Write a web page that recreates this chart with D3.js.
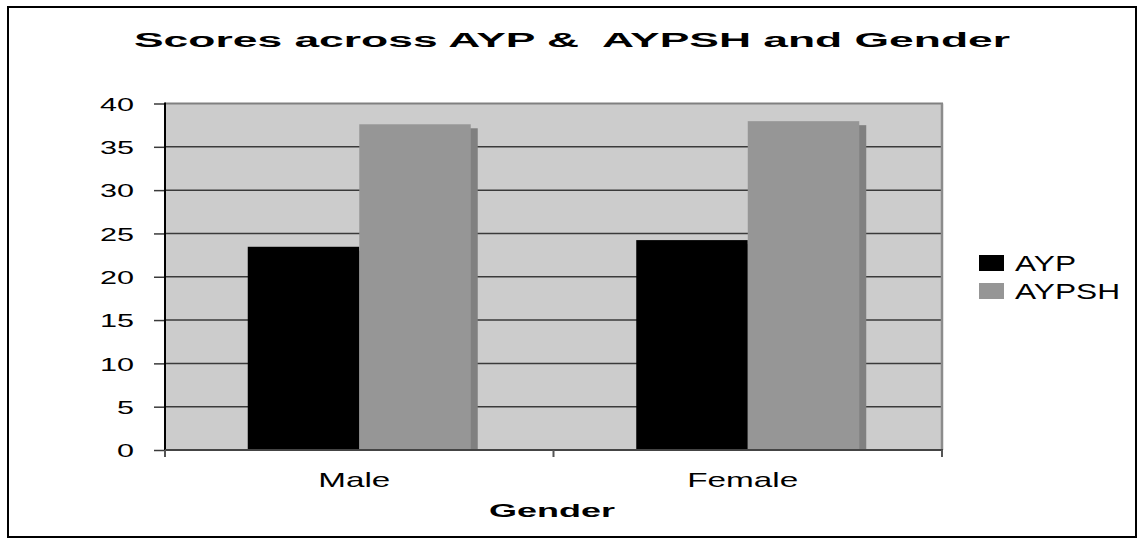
<!DOCTYPE html>
<html>
<head>
<meta charset="utf-8">
<script src="https://cdn.jsdelivr.net/npm/d3@7"></script>
<style>
    body { margin: 0; background: #fff; }
    text { font-family: "Liberation Sans", Arial, sans-serif; fill: #000; }
</style>
</head>
<body>
<svg id="chart" width="1139" height="540"></svg>
<script>
let categories = ["Male", "Female"];
let seriesNames = ["AYP", "AYPSH"];
let aypValues = [23.46, 24.23];
let aypshValues = [37.6, 37.96];
let yTicks = [0, 5, 10, 15, 20, 25, 30, 35, 40];
let colors = ["#000000", "#969696"];

let svg = d3.select("#chart");
let plot = { left: 165, right: 942, top: 103.5, bottom: 450 };

// outer frame
svg.append("rect")
    .attr("x", 8).attr("y", 7)
    .attr("width", 1128).attr("height", 530)
    .attr("fill", "none")
    .attr("stroke", "#000")
    .attr("stroke-width", 2);

let data = categories.map((c, i) => ({
    category: c,
    values: [aypValues[i], aypshValues[i]]
}));

let x0 = d3.scaleBand()
    .domain(categories)
    .range([plot.left, plot.right])
    .paddingInner(0.426)
    .paddingOuter(0.213);

let x1 = d3.scaleBand()
    .domain(seriesNames)
    .range([0, x0.bandwidth()]);

let y = d3.scaleLinear()
    .domain([0, 40])
    .range([plot.bottom, plot.top]);

// plot background
svg.append("rect")
    .attr("x", plot.left).attr("y", plot.top)
    .attr("width", plot.right - plot.left)
    .attr("height", plot.bottom - plot.top)
    .attr("fill", "#cccccc");

// gridlines
svg.append("g")
    .selectAll("line")
    .data(yTicks.filter(d => d > 0 && d < 40))
    .enter().append("line")
    .attr("x1", plot.left).attr("x2", plot.right)
    .attr("y1", d => y(d)).attr("y2", d => y(d))
    .attr("stroke", "#3a3a3a")
    .attr("stroke-width", 1.5);

// top and right border of plot area
svg.append("line")
    .attr("x1", plot.left).attr("x2", plot.right + 1)
    .attr("y1", plot.top).attr("y2", plot.top)
    .attr("stroke", "#808080").attr("stroke-width", 2);
svg.append("line")
    .attr("x1", plot.right).attr("x2", plot.right)
    .attr("y1", plot.top).attr("y2", plot.bottom)
    .attr("stroke", "#8c8c8c").attr("stroke-width", 2.5);

// bars with shadow
let groups = svg.append("g")
    .selectAll("g")
    .data(data).enter()
    .append("g")
    .attr("transform", d => `translate(${x0(d.category)},0)`);

groups.selectAll("rect.shadow")
    .data(d => d.values.map((v, i) => ({ key: seriesNames[i], value: v })))
    .enter().append("rect")
    .attr("class", "shadow")
    .attr("x", d => x1(d.key) + 7)
    .attr("y", d => y(d.value) + 4)
    .attr("width", x1.bandwidth())
    .attr("height", d => y(0) - y(d.value) - 4)
    .attr("fill", "#808080");

groups.selectAll("rect.bar")
    .data(d => d.values.map((v, i) => ({ key: seriesNames[i], value: v, i: i })))
    .enter().append("rect")
    .attr("class", "bar")
    .attr("x", d => x1(d.key))
    .attr("y", d => y(d.value))
    .attr("width", x1.bandwidth())
    .attr("height", d => y(0) - y(d.value))
    .attr("fill", d => colors[d.i]);

// y axis
let yAxis = d3.axisLeft(y).tickValues(yTicks).tickSize(11).tickPadding(0);
let yg = svg.append("g")
    .attr("transform", `translate(${plot.left},0)`)
    .call(yAxis);
yg.select(".domain").remove();
yg.selectAll(".tick line").attr("stroke", "#3a3a3a").attr("stroke-width", 1.5);
yg.selectAll(".tick text")
    .attr("x", -31)
    .attr("dy", "0.36em")
    .attr("font-size", 19)
    .attr("fill", "#000")
    .attr("textLength", d => d >= 10 ? 34 : 17)
    .attr("lengthAdjust", "spacingAndGlyphs");
svg.append("line")
    .attr("x1", plot.left).attr("x2", plot.left)
    .attr("y1", plot.top - 1).attr("y2", plot.bottom + 7)
    .attr("stroke", "#000").attr("stroke-width", 2);

// x axis
svg.append("line")
    .attr("x1", plot.left).attr("x2", plot.right + 1)
    .attr("y1", plot.bottom).attr("y2", plot.bottom)
    .attr("stroke", "#444").attr("stroke-width", 2);
let xEdges = [plot.left, (plot.left + plot.right) / 2, plot.right];
svg.append("g")
    .selectAll("line")
    .data(xEdges).enter()
    .append("line")
    .attr("x1", d => d).attr("x2", d => d)
    .attr("y1", plot.bottom).attr("y2", plot.bottom + 7)
    .attr("stroke", "#555").attr("stroke-width", 2);

let labelWidths = { Male: 72, Female: 111 };
svg.append("g")
    .selectAll("text")
    .data(categories).enter()
    .append("text")
    .attr("x", d => x0(d) + x0.bandwidth() / 2 - 5 - labelWidths[d] / 2)
    .attr("y", 487)
    .attr("font-size", 21)
    .attr("textLength", d => labelWidths[d])
    .attr("lengthAdjust", "spacingAndGlyphs")
    .text(d => d);

// axis title
svg.append("text")
    .attr("x", 489).attr("y", 517)
    .attr("font-size", 18)
    .attr("font-weight", "bold")
    .attr("textLength", 126)
    .attr("lengthAdjust", "spacingAndGlyphs")
    .text("Gender");

// chart title
svg.append("text")
    .attr("x", 134).attr("y", 47)
    .attr("font-size", 20)
    .attr("font-weight", "bold")
    .attr("textLength", 876)
    .attr("lengthAdjust", "spacingAndGlyphs")
    .style("white-space", "pre")
    .text("Scores across AYP &  AYPSH and Gender");

// legend
let legendWidths = [61, 105];
let legend = svg.append("g")
    .selectAll("g")
    .data(seriesNames).enter()
    .append("g")
    .attr("transform", (_, i) => `translate(979,${255 + i * 28})`);
legend.append("rect")
    .attr("width", 25).attr("height", 16)
    .attr("fill", (_, i) => colors[i]);
legend.append("text")
    .attr("x", 36).attr("y", 16)
    .attr("font-size", 22)
    .attr("textLength", (_, i) => legendWidths[i])
    .attr("lengthAdjust", "spacingAndGlyphs")
    .text(d => d);
</script>
</body>
</html>
